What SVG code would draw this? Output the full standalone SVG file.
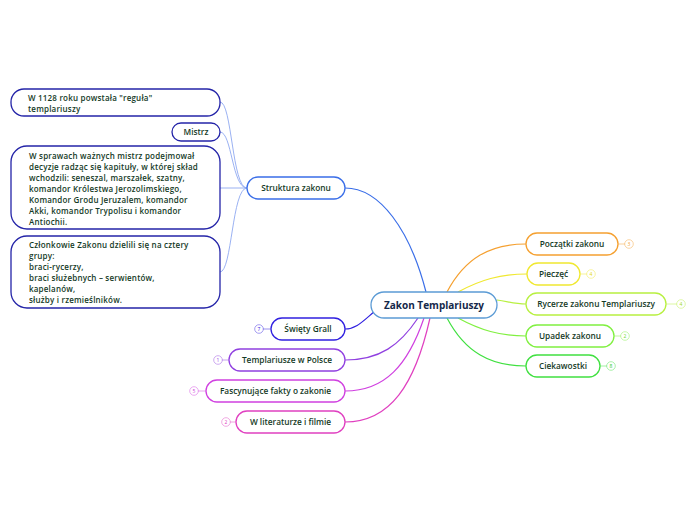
<svg xmlns="http://www.w3.org/2000/svg" width="696" height="520" viewBox="0 0 696 520">
<style>
text{font-family:"Open Sans","Noto Sans","Liberation Sans",sans-serif;fill:#143a26;font-weight:600}
.lbl{font-size:8.3px;text-anchor:middle}
.sub{font-size:8px;letter-spacing:0.2px}
.n{fill:#fff;stroke-width:1.3}
.c{fill:none;stroke-width:1.2}
.b{fill:#fff;stroke-width:0.8;opacity:0.55}
.bt{font-size:5px;text-anchor:middle;font-weight:400}
</style>
<rect width="696" height="520" fill="#fff"/>
<g id="connectors">
<path class="c" stroke="#3a6ee8" d="M426 292 C410 230 380 188 345 188"/>
<path class="c" stroke="#f5a030" d="M447 292 C465 258 490 244 526 244"/>
<path class="c" stroke="#f0e830" d="M458 292 C480 280 500 274 527 274"/>
<path class="c" stroke="#b8f040" d="M497 300 C510 302 515 304 526 304"/>
<path class="c" stroke="#80f040" d="M458 318 C480 330 500 336 526 336"/>
<path class="c" stroke="#40e040" d="M447 318 C465 352 490 366 526 366"/>
<path class="c" stroke="#3020e0" d="M375 311 C362 322 356 329 345 329"/>
<path class="c" stroke="#9040e0" d="M418 318 C400 345 380 360 345 360"/>
<path class="c" stroke="#d040e0" d="M424 318 C408 365 385 391 345 391"/>
<path class="c" stroke="#e040c0" d="M430 318 C415 385 390 422 345 422"/>
<g stroke="#8fa8f0" fill="none" stroke-width="0.9">
<path d="M247 188 C232 188 232 102 220 102"/>
<path d="M247 188 C232 188 232 132 220 132"/>
<path d="M247 188 L220 188"/>
<path d="M247 188 C232 188 232 272 220 272"/>
</g>
<g stroke-width="0.8" opacity="0.6">
<path stroke="#f5a030" d="M618 244 H625"/>
<path stroke="#f0e830" d="M580 274 H587"/>
<path stroke="#b8f040" d="M666 304 H677"/>
<path stroke="#80f040" d="M614 336 H621"/>
<path stroke="#40e040" d="M600 366 H607"/>
<path stroke="#3020e0" d="M271 329 H263"/>
<path stroke="#9040e0" d="M229 360 H222"/>
<path stroke="#d040e0" d="M206 391 H198"/>
<path stroke="#e040c0" d="M236 422 H230"/>
</g>
</g>
<g id="center">
<rect class="n" x="371" y="292" width="126" height="26" rx="13" stroke="#5b9bd5" stroke-width="1.5"/>
<text x="434" y="309" style="font-size:10px;font-weight:700;text-anchor:middle;fill:#14284a">Zakon Templariuszy</text>
</g>
<g id="poczatki">
<rect class="n" x="526" y="233" width="92" height="22" rx="11" stroke="#f5a030"/>
<text class="lbl" x="572" y="247">Początki zakonu</text>
<circle class="b" cx="629" cy="244" r="4.3" stroke="#f5a030"/><text class="bt" x="629" y="245.8" style="fill:#f5a030">3</text>
</g>
<g id="pieczec">
<rect class="n" x="527" y="263" width="53" height="22" rx="11" stroke="#f0e830"/>
<text class="lbl" x="553.5" y="277">Pieczęć</text>
<circle class="b" cx="591" cy="274" r="4.3" stroke="#f0e830"/><text class="bt" x="591" y="275.8" style="fill:#e0d820">4</text>
</g>
<g id="rycerze">
<rect class="n" x="526" y="293" width="140" height="22" rx="11" stroke="#b8f040"/>
<text class="lbl" x="596" y="307">Rycerze zakonu Templariuszy</text>
<circle class="b" cx="681" cy="304" r="4.3" stroke="#b8f040"/><text class="bt" x="681" y="305.8" style="fill:#a0d830">4</text>
</g>
<g id="upadek">
<rect class="n" x="526" y="325" width="88" height="22" rx="11" stroke="#80f040"/>
<text class="lbl" x="570" y="339">Upadek zakonu</text>
<circle class="b" cx="625" cy="336" r="4.3" stroke="#80f040"/><text class="bt" x="625" y="337.8" style="fill:#70d830">2</text>
</g>
<g id="ciekawostki">
<rect class="n" x="526" y="355" width="74" height="22" rx="11" stroke="#40e040"/>
<text class="lbl" x="563" y="369">Ciekawostki</text>
<circle class="b" cx="611" cy="366" r="4.3" stroke="#40e040"/><text class="bt" x="611" y="367.8" style="fill:#30c830">8</text>
</g>
<g id="swiety-grall">
<rect class="n" x="271" y="318" width="74" height="22" rx="11" stroke="#3020e0"/>
<text class="lbl" x="308" y="332">Święty Grall</text>
<circle class="b" cx="259" cy="329" r="4.3" stroke="#3020e0"/><text class="bt" x="259" y="330.8" style="fill:#3020e0">7</text>
</g>
<g id="templariusze-w-polsce">
<rect class="n" x="229" y="349" width="116" height="22" rx="11" stroke="#9040e0"/>
<text class="lbl" x="287" y="363">Templariusze w Polsce</text>
<circle class="b" cx="218" cy="360" r="4.3" stroke="#9040e0"/><text class="bt" x="218" y="361.8" style="fill:#9040e0">1</text>
</g>
<g id="fascynujace">
<rect class="n" x="206" y="380" width="139" height="22" rx="11" stroke="#d040e0"/>
<text class="lbl" x="275.5" y="394">Fascynujące fakty o zakonie</text>
<circle class="b" cx="194" cy="391" r="4.3" stroke="#d040e0"/><text class="bt" x="194" y="392.8" style="fill:#d040e0">5</text>
</g>
<g id="literatura">
<rect class="n" x="236" y="411" width="109" height="22" rx="11" stroke="#e040c0"/>
<text class="lbl" x="290.5" y="425">W literaturze i filmie</text>
<circle class="b" cx="226" cy="422" r="4.3" stroke="#e040c0"/><text class="bt" x="226" y="423.8" style="fill:#e040c0">2</text>
</g>
<g id="struktura">
<rect class="n" x="247" y="177" width="98" height="22" rx="11" stroke="#3a6ee8"/>
<text class="lbl" x="296" y="191">Struktura zakonu</text>
</g>
<g id="regula">
<rect class="n" x="11" y="89" width="209" height="27" rx="13" stroke="#2424a8"/>
<text class="sub" x="28" y="101">W 1128 roku powstała "reguła"</text>
<text class="sub" x="28" y="112">templariuszy</text>
</g>
<g id="mistrz">
<rect class="n" x="172" y="123" width="48" height="18" rx="9" stroke="#2424a8"/>
<text class="lbl" x="196" y="135">Mistrz</text>
</g>
<g id="sprawy">
<rect class="n" x="11" y="146" width="209" height="83" rx="16" stroke="#2424a8"/>
<text class="sub" x="29" y="159">W sprawach ważnych mistrz podejmował</text>
<text class="sub" x="29" y="170">decyzje radząc się kapituły, w której skład</text>
<text class="sub" x="29" y="181">wchodzili: seneszal, marszałek, szatny,</text>
<text class="sub" x="29" y="192">komandor Królestwa Jerozolimskiego,</text>
<text class="sub" x="29" y="203">Komandor Grodu Jeruzalem, komandor</text>
<text class="sub" x="29" y="214">Akki, komandor Trypolisu i komandor</text>
<text class="sub" x="29" y="225">Antiochii.</text>
</g>
<g id="czlonkowie">
<rect class="n" x="11" y="236" width="209" height="72" rx="16" stroke="#2424a8"/>
<text class="sub" x="29" y="248">Członkowie Zakonu dzielili się na cztery</text>
<text class="sub" x="29" y="259">grupy:</text>
<text class="sub" x="29" y="270">braci-rycerzy,</text>
<text class="sub" x="29" y="281">braci służebnych – serwientów,</text>
<text class="sub" x="29" y="292">kapelanów,</text>
<text class="sub" x="29" y="303">służby i rzemieślników.</text>
</g>
</svg>
